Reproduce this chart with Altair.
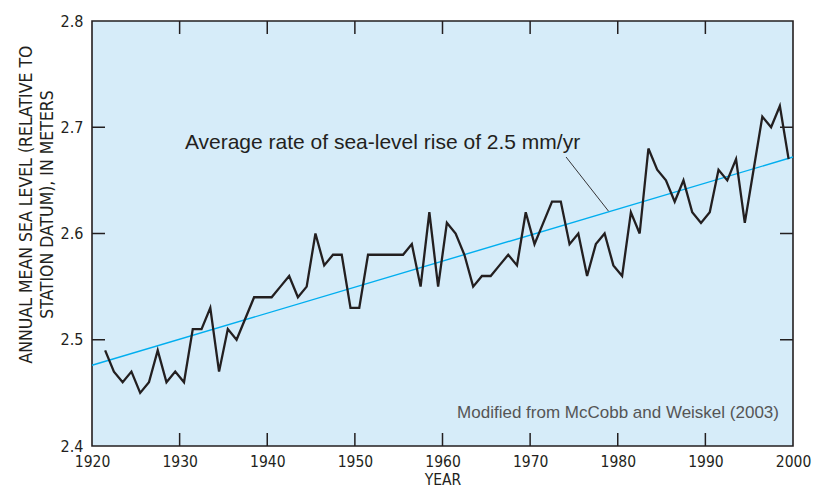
import altair as alt
import pandas as pd

# ---- data ----
years = list(range(1921, 2000))
sea_level = [
    2.49, 2.47, 2.46, 2.47, 2.45, 2.46, 2.49, 2.46, 2.47, 2.46,   # 1921-1930
    2.51, 2.51, 2.53, 2.47, 2.51, 2.50, 2.52, 2.54, 2.54, 2.54,   # 1931-1940
    2.55, 2.56, 2.54, 2.55, 2.60, 2.57, 2.58, 2.58, 2.53, 2.53,   # 1941-1950
    2.58, 2.58, 2.58, 2.58, 2.58, 2.59, 2.55, 2.62, 2.55, 2.61,   # 1951-1960
    2.60, 2.58, 2.55, 2.56, 2.56, 2.57, 2.58, 2.57, 2.62, 2.59,   # 1961-1970
    2.61, 2.63, 2.63, 2.59, 2.60, 2.56, 2.59, 2.60, 2.57, 2.56,   # 1971-1980
    2.62, 2.60, 2.68, 2.66, 2.65, 2.63, 2.65, 2.62, 2.61, 2.62,   # 1981-1990
    2.66, 2.65, 2.67, 2.61, 2.66, 2.71, 2.70, 2.72, 2.67,         # 1991-1999
]
trend_years = [1920, 2000]
trend_values = [2.476, 2.672]

x_ticks = [1920, 1930, 1940, 1950, 1960, 1970, 1980, 1990, 2000]
y_ticks = [2.4, 2.5, 2.6, 2.7, 2.8]
inner_x_ticks = [1930, 1940, 1950, 1960, 1970, 1980, 1990]
inner_y_ticks = [2.5, 2.6, 2.7]

annotation_text = ["Average rate of sea-level rise of 2.5 mm/yr"]
annotation_year = [1930.6]
annotation_level = [2.6795]
leader_start = [1974.1, 2.672]
leader_end = [1978.95, 2.621]

source_text = ["Modified from McCobb and Weiskel (2003)"]
source_year = [1998.4]
source_level = [2.4265]

y_title = ["ANNUAL MEAN SEA LEVEL (RELATIVE TO", "STATION DATUM), IN METERS"]

# ---- chart ----
W, H = 701, 425
AXFONT = "DejaVu Sans Condensed"
TXTFONT = "Liberation Sans"
INK = "#231f20"

df = pd.DataFrame({"year": years, "level": sea_level})
df["x"] = df["year"] + 0.5
trend_df = pd.DataFrame({"year": trend_years, "level": trend_values})
ann_df = pd.DataFrame({"t": annotation_text, "year": annotation_year, "level": annotation_level})
leader_df = pd.DataFrame({"x": [leader_start[0]], "y": [leader_start[1]],
                          "x2": [leader_end[0]], "y2": [leader_end[1]]})
src_df = pd.DataFrame({"t": source_text, "year": source_year, "level": source_level})
xt_df = pd.DataFrame({"v": inner_x_ticks})
yt_df = pd.DataFrame({"v": inner_y_ticks})

xs = alt.Scale(domain=[1920, 2000], nice=False, zero=False)
ys = alt.Scale(domain=[2.4, 2.8], nice=False, zero=False)

xaxis = alt.Axis(values=x_ticks, format="d", title="YEAR", ticks=False, domain=False,
                 grid=False, labelFlush=False, labelOverlap=False, labelPadding=8,
                 labelFont=AXFONT, labelFontSize=15.5, labelColor=INK,
                 titleFont=AXFONT, titleFontSize=15.5, titleFontWeight="normal",
                 titleColor=INK, titlePadding=3)
yaxis = alt.Axis(values=y_ticks, format=".1f", title=y_title, ticks=False, domain=False,
                 grid=False, labelFlush=False, labelOverlap=False, labelPadding=9,
                 labelFont=AXFONT, labelFontSize=16, labelColor=INK,
                 titleFont=AXFONT, titleFontSize=17.5, titleFontWeight="normal",
                 titleColor=INK, titleLineHeight=21, titleAngle=-90,
                 titleX=-75, titleY=183, titleBaseline="top", titleAlign="center")

line = alt.Chart(df).mark_line(color=INK, strokeWidth=2.3, strokeJoin="miter").encode(
    x=alt.X("x:Q", scale=xs, axis=xaxis),
    y=alt.Y("level:Q", scale=ys, axis=yaxis),
)
trend = alt.Chart(trend_df).mark_line(color="#00aeef", strokeWidth=1.4).encode(
    x=alt.X("year:Q", scale=xs), y=alt.Y("level:Q", scale=ys))
leader = alt.Chart(leader_df).mark_rule(color=INK, strokeWidth=0.9).encode(
    x=alt.X("x:Q", scale=xs), y=alt.Y("y:Q", scale=ys), x2="x2:Q", y2="y2:Q")
ann = alt.Chart(ann_df).mark_text(align="left", baseline="alphabetic", font=TXTFONT,
                                  fontSize=21, color=INK).encode(
    x=alt.X("year:Q", scale=xs), y=alt.Y("level:Q", scale=ys), text="t:N")
src = alt.Chart(src_df).mark_text(align="right", baseline="alphabetic", font=TXTFONT,
                                  fontSize=17, color="#555555").encode(
    x=alt.X("year:Q", scale=xs), y=alt.Y("level:Q", scale=ys), text="t:N")

TL = 13
tick_style = dict(color=INK, strokeWidth=1.5)
bt = alt.Chart(xt_df).mark_rule(**tick_style).encode(
    x=alt.X("v:Q", scale=xs), y=alt.value(H), y2=alt.value(H - TL))
tt = alt.Chart(xt_df).mark_rule(**tick_style).encode(
    x=alt.X("v:Q", scale=xs), y=alt.value(0), y2=alt.value(TL))
lt = alt.Chart(yt_df).mark_rule(**tick_style).encode(
    y=alt.Y("v:Q", scale=ys), x=alt.value(0), x2=alt.value(TL))
rt = alt.Chart(yt_df).mark_rule(**tick_style).encode(
    y=alt.Y("v:Q", scale=ys), x=alt.value(W), x2=alt.value(W - TL))

chart = alt.layer(trend, line, leader, ann, src, bt, tt, lt, rt).properties(
    width=W, height=H,
    padding={"left": 84, "top": 13, "right": 19, "bottom": 44},
    autosize=alt.AutoSizeParams(type="none"),
    background="white",
).configure_view(
    fill="#d6ecf9", stroke=INK, strokeWidth=1.6
)

chart.save("out.html", embed_options={"renderer": "svg", "actions": False})
